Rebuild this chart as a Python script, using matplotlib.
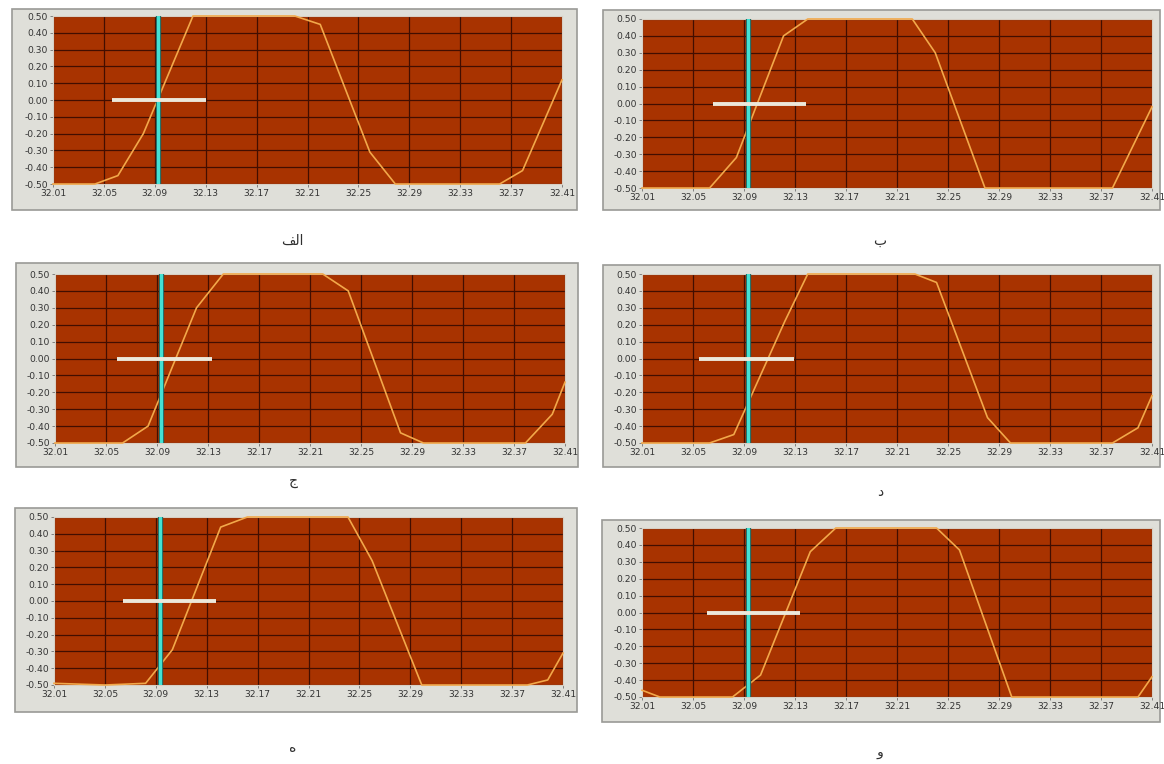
import numpy as np
import matplotlib.pyplot as plt
from matplotlib.patches import Rectangle

W, H = 1164, 764

x_ticks = [32.01, 32.05, 32.09, 32.13, 32.17, 32.21, 32.25, 32.29, 32.33, 32.37, 32.41]
y_ticks = [0.5, 0.4, 0.3, 0.2, 0.1, 0.0, -0.1, -0.2, -0.3, -0.4, -0.5]

# panel captions (alef is written in shaped presentation forms, visual order)
captions = ['\ufed2\ufedf\ufe8d', '\u0628', '\u062c', '\u062f', '\u0647', '\u0648']

# signal traces, one per panel
x_a = [32.01, 32.043, 32.061, 32.081, 32.120, 32.200, 32.220, 32.259, 32.279, 32.361, 32.379, 32.41]
y_a = [-0.50, -0.50, -0.45, -0.20, 0.50, 0.50, 0.45, -0.31, -0.50, -0.50, -0.42, 0.12]

x_b = [32.01, 32.063, 32.084, 32.121, 32.140, 32.222, 32.240, 32.279, 32.379, 32.41]
y_b = [-0.50, -0.50, -0.32, 0.40, 0.50, 0.50, 0.30, -0.50, -0.50, -0.02]

x_c = [32.01, 32.063, 32.083, 32.121, 32.142, 32.220, 32.240, 32.281, 32.299, 32.379, 32.400, 32.41]
y_c = [-0.50, -0.50, -0.40, 0.30, 0.50, 0.50, 0.40, -0.44, -0.50, -0.50, -0.33, -0.14]

x_d = [32.01, 32.063, 32.082, 32.122, 32.140, 32.224, 32.241, 32.281, 32.299, 32.379, 32.399, 32.41]
y_d = [-0.50, -0.50, -0.45, 0.22, 0.50, 0.50, 0.45, -0.35, -0.50, -0.50, -0.41, -0.22]

x_e = [32.01, 32.050, 32.082, 32.103, 32.141, 32.162, 32.241, 32.260, 32.299, 32.382, 32.398, 32.41]
y_e = [-0.49, -0.50, -0.49, -0.29, 0.44, 0.50, 0.50, 0.24, -0.50, -0.50, -0.47, -0.31]

x_f = [32.01, 32.024, 32.081, 32.103, 32.142, 32.162, 32.241, 32.259, 32.300, 32.399, 32.41]
y_f = [-0.46, -0.50, -0.50, -0.37, 0.36, 0.50, 0.50, 0.37, -0.50, -0.50, -0.38]

traces = [(x_a, y_a), (x_b, y_b), (x_c, y_c), (x_d, y_d), (x_e, y_e), (x_f, y_f)]

# cursor: vertical position and horizontal bar extent
cursor_x = [32.0925, 32.093, 32.093, 32.093, 32.093, 32.093]
cursor_h = [(32.056, 32.130), (32.066, 32.139), (32.059, 32.133),
            (32.055, 32.129), (32.064, 32.137), (32.061, 32.134)]

# pixel boxes: plot area (l, r, t, b) and surrounding frame (l, r, t, b)
plot_px = [(53, 562, 16, 184), (642, 1152, 19, 188),
           (55, 565, 274, 443), (642, 1152, 274, 443),
           (54, 563, 517, 685), (642, 1152, 528, 697)]
frame_px = [(12, 577, 9, 210), (603, 1160, 10, 210),
            (16, 578, 263, 467), (603, 1160, 265, 467),
            (15, 577, 508, 712), (602, 1160, 520, 722)]
caption_px = [(292, 241), (880, 241), (293, 481), (880, 492), (293, 748), (880, 752)]

BG = '#a83300'
GRID = '#420e00'
TRACE = '#f2a84a'
CYAN = '#45e0d2'
HBAR = '#ece8da'


def fig_rect(l, r, t, b):
    return [l / W, 1 - b / H, (r - l) / W, (b - t) / H]


fig = plt.figure(figsize=(W / 100, H / 100), dpi=100)
fig.patch.set_facecolor('white')

for i in range(6):
    fl, fr, ft, fb = frame_px[i]
    x0, y0, w, h = fig_rect(fl, fr, ft, fb)
    fig.patches.append(Rectangle((x0, y0), w, h, transform=fig.transFigure,
                                 facecolor='#dfdfd9', edgecolor='#9a9a96',
                                 linewidth=1.2, zorder=-5))

    ax = fig.add_axes(fig_rect(*plot_px[i]))
    ax.set_zorder(1)
    ax.set_facecolor(BG)
    ax.set_xlim(32.01, 32.41)
    ax.set_ylim(-0.5, 0.5)
    ax.set_xticks(x_ticks)
    ax.set_xticklabels(['%.2f' % v for v in x_ticks])
    ax.set_yticks(y_ticks)
    ax.set_yticklabels(['%.2f' % v for v in y_ticks])
    ax.tick_params(axis='both', length=2.5, width=0.6, color='#707070',
                   labelsize=6.6, labelcolor='#333333', pad=1)
    for lab in ax.get_xticklabels() + ax.get_yticklabels():
        lab.set_family('Liberation Sans Narrow')
    ax.grid(True, color=GRID, linewidth=0.9)
    ax.set_axisbelow(True)
    for sp in ax.spines.values():
        sp.set_color('#d8cfc4')
        sp.set_linewidth(0.8)

    xs, ys = traces[i]
    ax.plot(xs, ys, color=TRACE, linewidth=1.2, clip_on=False, zorder=3)

    cx = cursor_x[i]
    ax.axvline(cx, color='#1d5c58', linewidth=3.8, zorder=4)
    ax.axvline(cx, color=CYAN, linewidth=2.4, zorder=5)
    h0, h1 = cursor_h[i]
    ax.plot([h0, h1], [0, 0], color=HBAR, linewidth=2.8,
            solid_capstyle='butt', zorder=6)

    px, py = caption_px[i]
    fig.text(px / W, 1 - py / H, captions[i], ha='center', va='center',
             fontsize=10, family='DejaVu Sans', color='#303030')

fig.savefig('out.png', dpi=100)
